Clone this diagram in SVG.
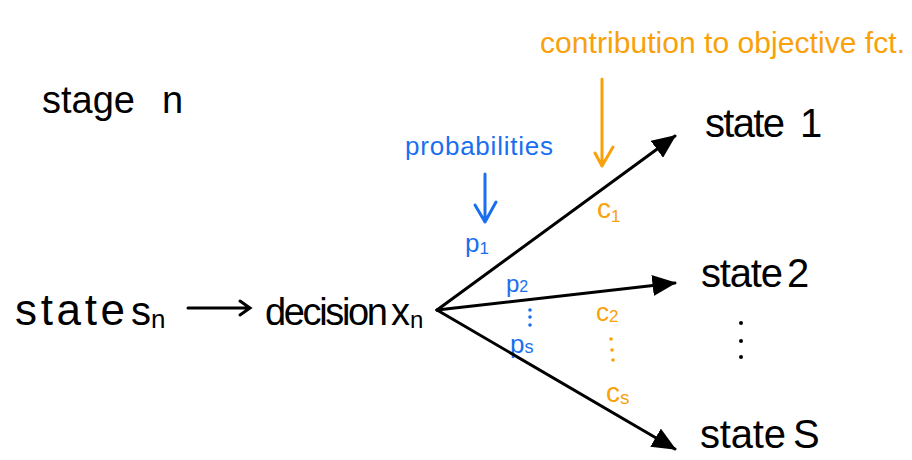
<svg xmlns="http://www.w3.org/2000/svg" width="912" height="460" viewBox="0 0 912 460">
<defs>
<style>
.k{font-family:"Liberation Sans",Arial,sans-serif;fill:#000}
.b{font-family:"Liberation Sans",Arial,sans-serif;fill:#1a6fef}
.o{font-family:"Liberation Sans",Arial,sans-serif;fill:#f9a10a}
.ln{stroke:#000;stroke-width:3;fill:none;stroke-linecap:round}
.bl{stroke:#1a6fef;stroke-width:3;fill:none;stroke-linecap:round;stroke-linejoin:round}
.ol{stroke:#f9a10a;stroke-width:3;fill:none;stroke-linecap:round;stroke-linejoin:round}
</style>
<marker id="ah" markerWidth="8" markerHeight="7" refX="7.5" refY="3.5" orient="auto" markerUnits="strokeWidth">
<path d="M0,0 L8,3.5 L0,7 Z" fill="#000"/>
</marker>
</defs>
<rect width="912" height="460" fill="#fff"/>
<g id="stage"><text class="k" x="42" y="113" font-size="38" textLength="93" lengthAdjust="spacing">stage</text><text class="k" x="162" y="113" font-size="38">n</text></g>
<g id="state-sn"><text class="k" x="15" y="325" font-size="44" textLength="110" lengthAdjust="spacing">state</text><text class="k" x="131" y="325" font-size="40">s<tspan font-size="26" dy="3">n</tspan></text></g>
<g id="decision"><text class="k" x="265" y="325" font-size="38" textLength="123" lengthAdjust="spacing">decision</text><text class="k" x="391" y="325" font-size="38">x<tspan font-size="24" dy="3">n</tspan></text></g>
<g id="state1"><text class="k" x="705" y="137" font-size="40" textLength="80" lengthAdjust="spacing">state</text><text class="k" x="800" y="137" font-size="40">1</text></g>
<g id="state2"><text class="k" x="701" y="287" font-size="40" textLength="82" lengthAdjust="spacing">state</text><text class="k" x="787" y="287" font-size="40">2</text></g>
<g id="stateS"><text class="k" x="700" y="448" font-size="40" textLength="86" lengthAdjust="spacing">state</text><text class="k" x="793" y="448" font-size="40">S</text></g>
<g id="state-dots" fill="#000"><circle cx="741" cy="323" r="2"/><circle cx="741" cy="341" r="2"/><circle cx="741" cy="357" r="2"/></g>
<g id="prob-label"><text class="b" x="405" y="155" font-size="26" textLength="148" lengthAdjust="spacing">probabilities</text></g>
<g id="contrib-label"><text class="o" x="540" y="53" font-size="30" textLength="365" lengthAdjust="spacing">contribution to objective fct.</text></g>
<g id="p-labels">
<text class="b" x="465" y="252" font-size="26">p<tspan font-size="17" dy="2">1</tspan></text>
<text class="b" x="506" y="292" font-size="24">p<tspan font-size="16" dy="0">2</tspan></text>
<circle cx="530" cy="310" r="1.8" fill="#1a6fef"/><circle cx="530" cy="317" r="1.8" fill="#1a6fef"/><circle cx="530" cy="325" r="1.8" fill="#1a6fef"/>
<text class="b" x="510" y="353" font-size="26">p<tspan font-size="18" dy="0">s</tspan></text>
</g>
<g id="c-labels">
<text class="o" x="597" y="218" font-size="28">c<tspan font-size="17" dy="4">1</tspan></text>
<text class="o" x="596" y="321" font-size="26">c<tspan font-size="17" dy="1">2</tspan></text>
<circle cx="611" cy="339" r="1.8" fill="#f9a10a"/><circle cx="612" cy="350" r="1.8" fill="#f9a10a"/><circle cx="613" cy="360" r="1.8" fill="#f9a10a"/>
<text class="o" x="606" y="402" font-size="28">c<tspan font-size="19" dy="2">s</tspan></text>
</g>
<g id="connectors">
<line class="ln" x1="437" y1="310" x2="675" y2="136" marker-end="url(#ah)"/>
<line class="ln" x1="437" y1="310" x2="675" y2="283" marker-end="url(#ah)"/>
<line class="ln" x1="437" y1="310" x2="675" y2="449" marker-end="url(#ah)"/>
<path class="ln" d="M188,308 L250,308 M240,301 L250,308 L240,315" stroke-width="2.5"/>
<path class="bl" d="M485,174 L485,222 M475,205 L485,222 L496,202"/>
<path class="ol" d="M602,79 L602,166 M595,153 L602,166 L613,147"/>
</g>
</svg>
